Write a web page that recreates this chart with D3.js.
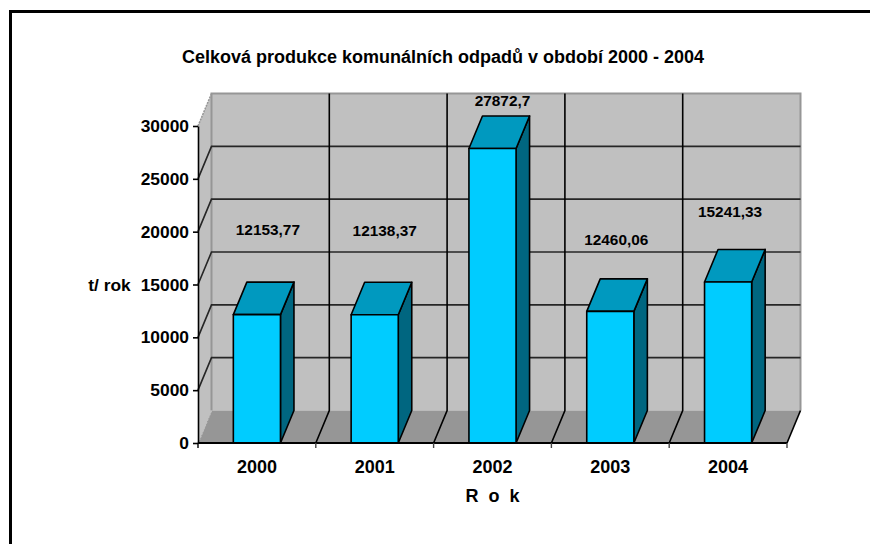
<!DOCTYPE html>
<html>
<head>
<meta charset="utf-8">
<script src="https://cdn.jsdelivr.net/npm/d3@7"></script>
<style>
  html, body { margin: 0; padding: 0; background: #fff; }
  text { font-family: "Liberation Sans", Arial, sans-serif; font-weight: bold; fill: #000; }
</style>
</head>
<body>
<svg id="chart" width="870" height="544" style="display:block"></svg>
<script>
const years = ["2000", "2001", "2002", "2003", "2004"];
const values = [12153.77, 12138.37, 27872.7, 12460.06, 15241.33];
const valueLabels = ["12153,77", "12138,37", "27872,7", "12460,06", "15241,33"];
const yTicks = [0, 5000, 10000, 15000, 20000, 25000, 30000];

const svg = d3.select("#chart");

const depth = {x: 13.5, y: -32.5};
const plot = {left: 198, right: 787, top: 126, bottom: 443};

const x = d3.scaleBand()
    .domain(years)
    .range([plot.left, plot.right])
    .paddingInner(0.6)
    .paddingOuter(0.3);

const y = d3.scaleLinear()
    .domain([0, 30000])
    .range([plot.bottom, plot.top]);

const line = d3.line();
const tickX = i => plot.left + i * x.step();

// Outer frame
svg.append("path")
    .attr("d", line([[10.5, 544], [10.5, 11.5], [870, 11.5]]))
    .attr("fill", "none")
    .attr("stroke", "#000")
    .attr("stroke-width", 3);

// Back wall
svg.append("rect")
    .attr("x", plot.left + depth.x)
    .attr("y", plot.top + depth.y)
    .attr("width", plot.right - plot.left)
    .attr("height", plot.bottom - plot.top)
    .attr("fill", "#c0c0c0");

// Left wall
svg.append("path")
    .attr("d", line([
        [plot.left, plot.bottom],
        [plot.left, plot.top],
        [plot.left + depth.x, plot.top + depth.y],
        [plot.left + depth.x, plot.bottom + depth.y]
    ]) + "Z")
    .attr("fill", "#c0c0c0");

// Floor
svg.append("path")
    .attr("d", line([
        [plot.left, plot.bottom],
        [plot.right, plot.bottom],
        [plot.right + depth.x, plot.bottom + depth.y],
        [plot.left + depth.x, plot.bottom + depth.y]
    ]) + "Z")
    .attr("fill", "#969696");

// Wall edges
svg.append("path")
    .attr("d", line([
        [plot.left + depth.x, plot.bottom + depth.y],
        [plot.left + depth.x, plot.top + depth.y],
        [plot.right + depth.x, plot.top + depth.y],
        [plot.right + depth.x, plot.bottom + depth.y]
    ]))
    .attr("fill", "none")
    .attr("stroke", "#969696")
    .attr("stroke-width", 2);

svg.append("path")
    .attr("d", line([[plot.left, plot.top], [plot.left + depth.x, plot.top + depth.y]]))
    .attr("stroke", "#969696")
    .attr("stroke-width", 1.5)
    .attr("stroke-dasharray", "2 1");

svg.append("path")
    .attr("d", line([[plot.left, plot.bottom], [plot.left + depth.x, plot.bottom + depth.y]]))
    .attr("stroke", "#c0c0c0")
    .attr("stroke-width", 1.5)
    .attr("stroke-dasharray", "2 1");

// Horizontal gridlines
yTicks.slice(1, -1).forEach(t => {
    svg.append("path")
        .attr("d", line([
            [plot.left, y(t)],
            [plot.left + depth.x, y(t) + depth.y],
            [plot.right + depth.x, y(t) + depth.y]
        ]))
        .attr("fill", "none")
        .attr("stroke", "#262626")
        .attr("stroke-width", 1.6);
});

// Vertical gridlines, up the wall and across the floor
years.slice(1).concat("end").forEach((d, i) => {
    const tx = tickX(i + 1);
    svg.append("path")
        .attr("d", i === 4
            ? line([[tx, plot.bottom], [tx + depth.x, plot.bottom + depth.y]])
            : line([
                [tx, plot.bottom],
                [tx + depth.x, plot.bottom + depth.y],
                [tx + depth.x, plot.top + depth.y]
            ]))
        .attr("fill", "none")
        .attr("stroke", "#000")
        .attr("stroke-width", 1.6);
});

// Bars
const bars = svg.selectAll(".bar")
    .data(years)
    .enter()
    .append("g")
    .attr("class", "bar");

const barStroke = sel => sel
    .attr("stroke", "#000")
    .attr("stroke-width", 1.6)
    .attr("stroke-linejoin", "round");

const valueOf = d => values[years.indexOf(d)];

// side face
bars.append("path")
    .attr("d", d => {
        const xr = x(d) + x.bandwidth();
        return line([
            [xr, plot.bottom],
            [xr, y(valueOf(d))],
            [xr + depth.x, y(valueOf(d)) + depth.y],
            [xr + depth.x, plot.bottom + depth.y]
        ]) + "Z";
    })
    .attr("fill", "#006680")
    .call(barStroke);

// top face
bars.append("path")
    .attr("d", d => {
        const xl = x(d), xr = xl + x.bandwidth(), yt = y(valueOf(d));
        return line([
            [xl, yt],
            [xr, yt],
            [xr + depth.x, yt + depth.y],
            [xl + depth.x, yt + depth.y]
        ]) + "Z";
    })
    .attr("fill", "#0099bf")
    .call(barStroke);

// front face
bars.append("rect")
    .attr("x", d => x(d))
    .attr("y", d => y(valueOf(d)))
    .attr("width", x.bandwidth())
    .attr("height", d => plot.bottom - y(valueOf(d)))
    .attr("fill", "#00ccff")
    .call(barStroke);

// Axes
const yAxis = d3.axisLeft(y).tickValues(yTicks).tickFormat(d3.format("d")).tickSize(5).tickSizeOuter(0).tickPadding(4);
const yG = svg.append("g").attr("transform", `translate(${plot.left},0)`).call(yAxis);
yG.selectAll("path, line").attr("stroke", "#000").attr("stroke-width", 1.6);
yG.selectAll("text").style("font-size", "17.4px");

const xAxis = d3.axisBottom(x).tickSize(0).tickPadding(17);
const xG = svg.append("g").attr("transform", `translate(0,${plot.bottom})`).call(xAxis);
xG.select("path").remove();
xG.selectAll("text").style("font-size", "18px");

svg.append("line")
    .attr("x1", plot.left).attr("x2", plot.right)
    .attr("y1", plot.bottom).attr("y2", plot.bottom)
    .attr("stroke", "#000").attr("stroke-width", 2);

d3.range(6).forEach(i => {
    svg.append("line")
        .attr("x1", tickX(i)).attr("x2", tickX(i))
        .attr("y1", plot.bottom).attr("y2", plot.bottom + 5)
        .attr("stroke", i === 0 ? "#000" : "#444").attr("stroke-width", 1.4);
});

// Value labels, placed by hand above each bar as in the original
const labelShift = [
    {dx: 11, dy: -80},
    {dx: 10, dy: -79},
    {dx: 10, dy: -42},
    {dx: 6, dy: -66},
    {dx: 2, dy: -65}
];
svg.selectAll(".value")
    .data(years)
    .enter()
    .append("text")
    .attr("class", "value")
    .attr("x", (d, i) => x(d) + x.bandwidth() / 2 + labelShift[i].dx)
    .attr("y", (d, i) => y(values[i]) + labelShift[i].dy)
    .attr("text-anchor", "middle")
    .style("font-size", "15.4px")
    .text((d, i) => valueLabels[i]);

// Titles
svg.append("text")
    .attr("x", 443)
    .attr("y", 62.5)
    .attr("text-anchor", "middle")
    .style("font-size", "18px")
    .text("Celková produkce komunálních odpadů v období 2000 - 2004");

svg.append("text")
    .attr("x", 109.5)
    .attr("y", 291)
    .attr("text-anchor", "middle")
    .style("font-size", "17.4px")
    .text("t/ rok");

svg.append("text")
    .attr("x", 492.5)
    .attr("y", 501.5)
    .attr("text-anchor", "middle")
    .style("font-size", "18px")
    .style("white-space", "pre")
    .text("R  o  k");
</script>
</body>
</html>
